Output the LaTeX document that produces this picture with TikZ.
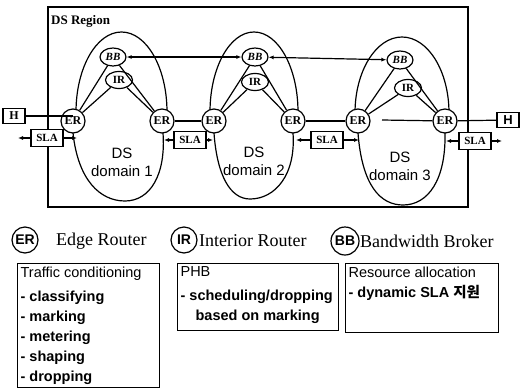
\documentclass[tikz,border=0pt]{standalone}
\usepackage{fontspec}
\setmainfont{Liberation Serif}
\setsansfont{Liberation Sans}
\newfontfamily\krfont{Noto Sans CJK KR}
\usetikzlibrary{arrows.meta,backgrounds,shapes.geometric}
\tikzset{
  ln/.style={line width=1.2pt},
  ernode/.style={circle, draw, ln, fill=white, minimum size=24pt, inner sep=0pt, font=\bfseries\fontsize{12}{12}\selectfont},
  bbnode/.style={ellipse, draw, ln, fill=white, minimum width=26pt, minimum height=18pt, inner sep=0pt, font=\bfseries\itshape\fontsize{11}{11}\selectfont},
  irnode/.style={ellipse, draw, ln, fill=white, minimum width=27pt, minimum height=17pt, inner sep=0pt, font=\bfseries\fontsize{11}{11}\selectfont},
  slanode/.style={rectangle, draw, ln, fill=white, minimum width=32pt, minimum height=17pt, inner sep=0pt, font=\bfseries\fontsize{11}{11}\selectfont},
  hnode/.style={rectangle, draw, ln, fill=white, minimum width=22pt, minimum height=15pt, inner sep=0pt, font=\bfseries\fontsize{12}{12}\selectfont},
  arr/.style={ln, -{Latex[length=5pt,width=4pt]}},
  dualarr/.style={ln, {Latex[length=5pt,width=4pt]}-{Latex[length=5pt,width=4pt]}},
  domtext/.style={align=center, font=\sffamily\fontsize{15}{18}\selectfont},
  legcircle/.style={circle, draw, ln, minimum size=26pt, inner sep=0pt, font=\sffamily\bfseries\fontsize{14}{14}\selectfont},
  legtext/.style={anchor=west, inner sep=0pt, font=\fontsize{18}{18}\selectfont},
  tbox/.style={draw, ln, anchor=north west, inner xsep=3pt, inner ysep=3pt, font=\sffamily\fontsize{14.5}{20}\selectfont}
}
\begin{document}
\begin{tikzpicture}[x=1pt,y=-1pt]
\useasboundingbox (0,0) rectangle (522,389);

% nodes
\node[ernode] (er1) at (73,121) {ER};
\node[ernode] (er2) at (162,121) {ER};
\node[ernode] (er3) at (214,121) {ER};
\node[ernode] (er4) at (293,121) {ER};
\node[ernode] (er5) at (358,121) {ER};
\node[ernode] (er6) at (445,121) {ER};
\node[bbnode] (bb1) at (113,57) {BB};
\node[bbnode] (bb2) at (255,57) {BB};
\node[bbnode] (bb3) at (400,60) {BB};
\node[irnode] (ir1) at (119,80) {IR};
\node[irnode] (ir2) at (255,82) {IR};
\node[irnode] (ir3) at (408,88) {IR};
\node[hnode] (h1) at (14,116) {H};
\node[hnode, font=\sffamily\bfseries\fontsize{13}{13}\selectfont] (h2) at (508,120) {H};
\node[slanode] (sla1) at (47,138) {SLA};
\node[slanode] (sla2) at (190,140) {SLA};
\node[slanode] (sla3) at (327,140) {SLA};
\node[slanode] (sla4) at (475,141) {SLA};
\node[anchor=north west, inner sep=0pt, font=\bfseries\fontsize{13}{13}\selectfont] (region) at (51,15) {DS Region};
\node[domtext] (dom1) at (122,162) {DS\\domain 1};
\node[domtext] (dom2) at (254,161) {DS\\domain 2};
\node[domtext] (dom3) at (400,166) {DS\\domain 3};

\begin{pgfonlayer}{background}
  \draw[line width=1.3pt] (48,7) rectangle (468,207);
  % domain 1
  \draw[ln] (76,112) .. controls (76,67.8) and (96.4,32) .. (121.5,32)
                     .. controls (146.6,32) and (167,67.8) .. (167,112);
  \draw[ln] (73,133) .. controls (78,180) and (100,201) .. (125,201)
                     .. controls (150,201) and (166,175) .. (163,133);
  % domain 2
  \draw[ln] (210,112) .. controls (210,67.8) and (229.7,32) .. (254,32)
                      .. controls (278.3,32) and (298,67.8) .. (298,112);
  \draw[ln] (214,133) .. controls (217,175) and (230,199) .. (250,199)
                      .. controls (275,199) and (296,175) .. (293,133);
  % domain 3
  \draw[ln] (355,113) .. controls (355,71) and (376.1,37) .. (402,37)
                      .. controls (427.9,37) and (449,71) .. (449,113);
  \draw[ln] (358,133) .. controls (362,185) and (380,205) .. (403,205)
                      .. controls (428,205) and (446,180) .. (445,133);
\end{pgfonlayer}

% inner links
\foreach \a/\b/\c/\d in {er1/bb1/ir1/er2, er3/bb2/ir2/er4, er5/bb3/ir3/er6}{
  \draw[ln] (\a) -- (\b);
  \draw[ln] (\a) -- (\c);
  \draw[ln] (\c) -- (\d);
  \draw[ln] (\b) -- (\d);
}
% inter-domain links
\draw[ln] (h1) -- (h1 -| er1);
\draw[ln] (er2) -- (er3);
\draw[ln] (er4) -- (er5);
\coordinate (gap5) at (382,120);
\draw[ln] (gap5) -- (er6);
\draw[ln] (er6) -- (h2);
% BB signalling
\draw[dualarr] (bb1) -- (bb2);
\draw[dualarr] (bb2) -- (bb3);
% SLA arrows
\coordinate (s1l) at (18,138);  \coordinate (s1r) at (77,138);
\coordinate (s2l) at (164,140); \coordinate (s2r) at (213,140);
\coordinate (s3l) at (296,140); \coordinate (s3r) at (359,140);
\coordinate (s4l) at (446,141); \coordinate (s4r) at (502,141);
\draw[arr] (sla1) -- (s1l); \draw[arr] (sla1) -- (s1r);
\draw[arr] (sla2) -- (s2l); \draw[arr] (sla2) -- (s2r);
\draw[arr] (sla3) -- (s3l); \draw[arr] (sla3) -- (s3r);
\draw[arr] (sla4) -- (s4l); \draw[arr] (sla4) -- (s4r);

% legend
\node[legcircle] (lger) at (25,240) {ER};
\node[legtext] (lgert) at (56,241) {Edge Router};
\node[legcircle] (lgir) at (184,240) {IR};
\node[legtext] (lgirt) at (199,241) {Interior Router};
\node[legcircle, minimum size=28pt] (lgbb) at (345,241) {BB};
\node[legtext] (lgbbt) at (360,241) {Bandwidth Broker};

% boxes
\node[tbox] (tcbox) at (17,263) {\parbox[t][118pt][t]{136pt}{\raggedright
  Traffic conditioning\\[4pt]
  \textbf{- classifying}\\
  \textbf{- marking}\\
  \textbf{- metering}\\
  \textbf{- shaping}\\
  \textbf{- dropping}}};
\node[tbox] (phbbox) at (177,263) {\parbox[t][61pt][t]{155pt}{\raggedright
  PHB\\[4pt]
  \textbf{- scheduling/dropping}\\
  \textbf{\hspace*{15pt}based on marking}}};
\node[tbox] (rabox) at (345,263) {\parbox[t][63pt][t]{147pt}{\raggedright
  Resource allocation\\
  \textbf{- dynamic SLA {\krfont 지원}}}};
\end{tikzpicture}
\end{document}
